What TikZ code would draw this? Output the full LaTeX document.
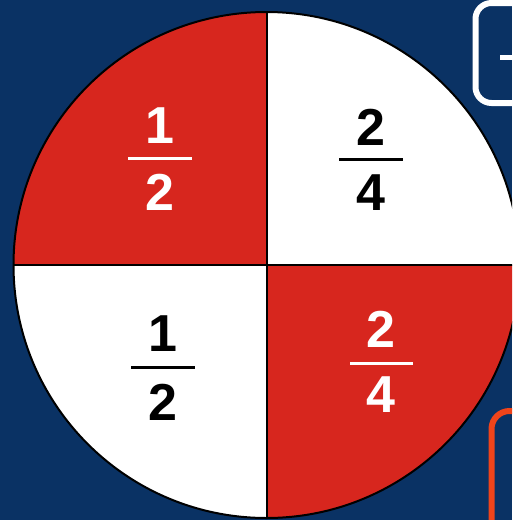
\documentclass[tikz,border=0pt]{standalone}
\usepackage{fontspec}
\setmainfont{Liberation Sans}
\definecolor{bgblue}{HTML}{0A3264}
\definecolor{qred}{HTML}{D7261E}
\definecolor{boxorange}{HTML}{F0441A}
\begin{document}
\begin{tikzpicture}[x=1pt,y=-1pt,
  digit/.style={anchor=base,inner sep=0pt,font=\fontsize{52}{60}\selectfont\bfseries},
  wdigit/.style={digit,text=white},
  bdigit/.style={digit,text=black},
  wbar/.style={white,line width=3pt},
  bbar/.style={black,line width=3pt},
  divider/.style={black,line width=2pt}]
\useasboundingbox (0,0) rectangle (512,520);
\fill[bgblue] (0,0) rectangle (512,520);
\begin{scope}
\clip (0,0) rectangle (512,520);
% side boxes
\draw[white,line width=6pt,rounded corners=16pt] (475.5,3) rectangle (560,103);
\fill[white] (500,55) rectangle (515,60);
\draw[boxorange,line width=6pt,rounded corners=18pt] (491.5,411) rectangle (560,560);
% circle
\coordinate (c) at (266.5,265);
\begin{scope}
\clip (c) circle (253);
\fill[white] (c) circle (253);
\fill[qred] (c) rectangle ++(-260,-260);
\fill[qred] (c) rectangle ++(260,260);
\end{scope}
\draw[divider] (c) ++(-253,0) -- ++(506,0);
\draw[divider] (c) ++(0,-253) -- ++(0,506);
\draw[black,line width=2pt] (c) circle (253);
\end{scope}
% fractions
\node[wdigit] (tln) at (160,143) {1};
\node[wdigit] (tld) at (160,210) {2};
\coordinate (tlbl) at (128,158);
\coordinate (tlbr) at (192,158);
\draw[wbar] (tlbl) -- (tlbr);
\node[bdigit] (trn) at (371,145) {2};
\node[bdigit] (trd) at (371,210) {4};
\coordinate (trbl) at (339,159);
\coordinate (trbr) at (403,159);
\draw[bbar] (trbl) -- (trbr);
\node[bdigit] (bln) at (163,351) {1};
\node[bdigit] (bld) at (163,420) {2};
\coordinate (blbl) at (131,367);
\coordinate (blbr) at (195,367);
\draw[bbar] (blbl) -- (blbr);
\node[wdigit] (brn) at (381,347) {2};
\node[wdigit] (brd) at (381,412) {4};
\coordinate (brbl) at (350,363);
\coordinate (brbr) at (413,363);
\draw[wbar] (brbl) -- (brbr);
\end{tikzpicture}
\end{document}
